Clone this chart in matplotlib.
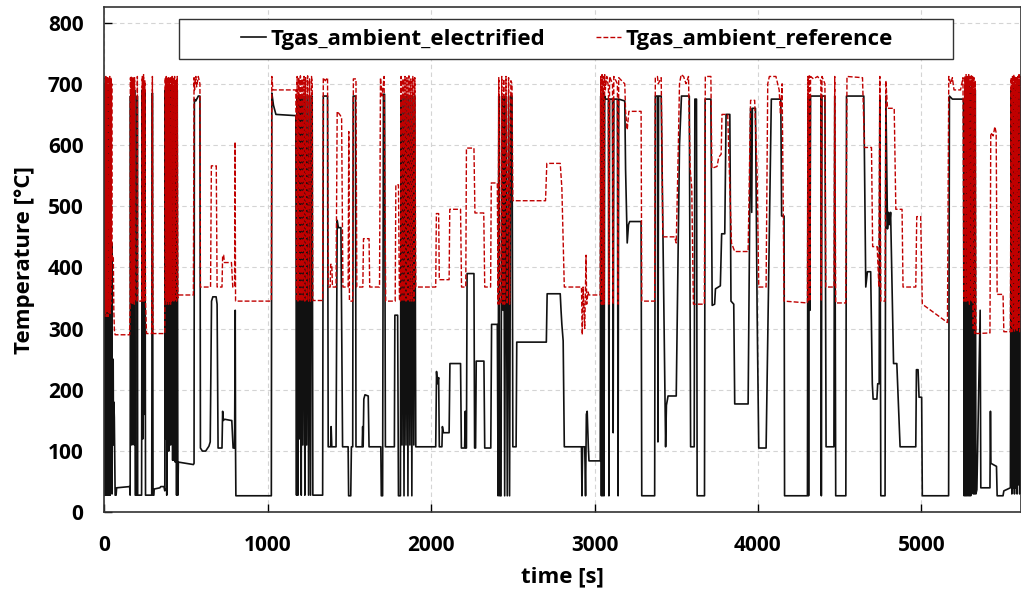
import matplotlib.pyplot as plt
import numpy as np
from matplotlib.patches import Rectangle

plt.rcParams['font.family'] = ['Open Sans', 'DejaVu Sans']
plt.rcParams['font.weight'] = 'bold'

# (time [s], temperature [°C]) breakpoints
electrified = [
    (0, 95), (2, 320), (3, 28), (5, 680), (7, 28), (9, 690), (11, 30), (13, 320), (15, 28), (17, 685),
    (19, 28), (21, 690), (23, 30), (25, 330), (27, 28), (29, 680), (31, 28), (33, 690), (35, 28), (37, 680),
    (39, 35), (41, 685), (43, 100), (45, 440), (47, 30), (49, 250), (52, 160), (54, 250), (56, 110), (58, 180),
    (61, 155), (63, 100), (66, 28), (72, 28), (75, 40), (150, 42), (155, 42),
    (158, 28), (160, 680), (163, 115), (165, 690), (168, 110), (170, 685), (173, 120), (175, 690), (178, 150),
    (180, 680), (183, 110), (185, 690), (189, 28), (200, 28), (202, 680), (204, 28), (228, 28), (232, 690),
    (236, 120), (240, 695), (244, 160), (248, 690), (252, 28), (290, 28), (294, 685), (298, 28), (303, 28),
    (305, 38), (340, 40), (345, 42), (365, 42), (370, 35),
    (373, 690), (376, 120), (379, 680), (382, 28), (385, 690), (388, 140), (391, 685), (394, 100), (397, 690),
    (400, 150), (403, 685), (406, 110), (409, 690), (412, 120), (415, 680), (418, 85), (422, 690), (426, 85),
    (430, 685), (434, 82), (438, 690), (442, 28), (446, 690), (450, 28), (453, 82), (545, 78),
    (549, 80), (551, 675), (560, 672), (575, 680), (585, 680), (588, 105), (600, 100), (620, 100), (640, 108),
    (648, 115), (656, 345), (664, 352), (684, 352), (690, 340), (696, 105), (720, 105), (724, 165), (728, 150),
    (736, 152), (776, 150), (780, 150), (788, 105), (797, 105), (799, 230), (801, 330), (803, 100), (805, 27),
    (1022, 27), (1025, 685), (1035, 665), (1050, 650), (1172, 648),
    (1176, 28), (1180, 680), (1185, 28), (1190, 680), (1195, 120), (1200, 680), (1205, 28), (1210, 680),
    (1215, 110), (1222, 680), (1227, 28), (1232, 680), (1238, 110), (1244, 680), (1250, 28), (1256, 680),
    (1262, 28), (1268, 680), (1272, 680), (1276, 28), (1336, 28), (1340, 680), (1366, 680), (1370, 107),
    (1385, 107), (1388, 140), (1392, 107), (1418, 107), (1425, 477), (1432, 465), (1448, 465), (1458, 107),
    (1492, 107), (1495, 27), (1508, 27), (1512, 107), (1520, 107), (1523, 680), (1537, 680), (1540, 107),
    (1578, 107), (1581, 140), (1584, 107), (1588, 185), (1595, 192), (1615, 190), (1620, 107), (1692, 107),
    (1695, 27), (1703, 27), (1708, 683), (1715, 683), (1720, 107), (1775, 107), (1778, 322), (1795, 322),
    (1800, 27), (1812, 27),
    (1816, 680), (1822, 110), (1828, 680), (1834, 27), (1840, 680), (1846, 110), (1852, 680), (1858, 27),
    (1864, 680), (1870, 110), (1876, 680), (1882, 27), (1888, 680), (1894, 110), (1900, 680), (1906, 107),
    (2028, 107), (2033, 230), (2038, 210), (2046, 220), (2050, 107), (2066, 107), (2069, 140), (2075, 130),
    (2110, 130), (2115, 243), (2180, 243), (2185, 105), (2205, 105), (2209, 165), (2212, 105), (2216, 105),
    (2220, 390), (2262, 390), (2266, 105), (2272, 105), (2276, 247), (2323, 247), (2328, 105), (2365, 105),
    (2370, 307), (2405, 307),
    (2410, 27), (2414, 680), (2420, 27), (2428, 27), (2432, 680), (2440, 330), (2444, 680), (2450, 27),
    (2458, 680), (2466, 27), (2474, 680), (2480, 27), (2488, 680), (2495, 680), (2500, 107), (2520, 107),
    (2524, 278), (2705, 278), (2710, 357), (2790, 357), (2795, 330), (2800, 307), (2808, 280), (2815, 107),
    (2920, 107), (2923, 27), (2927, 107), (2940, 107), (2945, 27), (2950, 160), (2955, 165), (2962, 107),
    (2966, 84), (3035, 84),
    (3038, 680), (3042, 27), (3046, 685), (3050, 27), (3054, 685), (3058, 27), (3062, 680), (3066, 675),
    (3085, 675), (3088, 27), (3092, 675), (3110, 675), (3114, 130), (3118, 675), (3140, 675), (3144, 27),
    (3148, 675), (3185, 672), (3190, 560), (3200, 440), (3208, 470), (3215, 475), (3285, 475), (3289, 27),
    (3368, 27), (3372, 680), (3385, 680), (3388, 115), (3392, 680), (3408, 680), (3435, 107), (3440, 175),
    (3450, 190), (3500, 190), (3520, 600), (3532, 680), (3565, 680), (3580, 680), (3588, 107), (3610, 107),
    (3614, 675), (3624, 675), (3628, 27), (3673, 27), (3677, 675), (3712, 675), (3720, 338), (3735, 340),
    (3740, 365), (3770, 370), (3778, 455), (3797, 455), (3805, 650), (3828, 650), (3835, 345), (3852, 340),
    (3858, 177), (3940, 177), (3955, 660), (3962, 490), (3966, 660), (3985, 660), (3995, 330), (4005, 105),
    (4050, 105), (4082, 675), (4140, 675), (4145, 484), (4160, 484), (4163, 27), (4303, 27),
    (4306, 680), (4310, 27), (4314, 680), (4318, 330), (4322, 680), (4385, 680), (4388, 27), (4392, 680),
    (4410, 680), (4417, 107), (4465, 107), (4470, 680), (4476, 27), (4538, 27), (4542, 680), (4648, 680),
    (4660, 368), (4670, 393), (4690, 393), (4700, 210), (4705, 185), (4728, 185), (4733, 210), (4742, 210),
    (4746, 680), (4752, 27), (4778, 27), (4783, 680), (4793, 463), (4800, 490), (4806, 470), (4812, 490),
    (4830, 243), (4850, 243), (4870, 107), (4966, 107), (4970, 233), (4980, 233), (4986, 188), (5002, 188),
    (5006, 27), (5167, 27), (5172, 680), (5190, 675), (5258, 675),
    (5262, 27), (5266, 690), (5270, 27), (5274, 700), (5278, 27), (5282, 690), (5286, 27), (5290, 700),
    (5294, 27), (5298, 690), (5302, 27), (5306, 695), (5310, 120), (5314, 690), (5318, 30), (5322, 680),
    (5326, 30), (5330, 690), (5334, 30), (5340, 37), (5360, 330), (5364, 40), (5420, 40),
    (5423, 165), (5426, 80), (5460, 75), (5464, 27), (5500, 27), (5505, 35), (5545, 40),
    (5550, 690), (5554, 30), (5558, 695), (5562, 40), (5566, 700), (5570, 30), (5574, 690), (5578, 40),
    (5582, 700), (5586, 30), (5590, 695), (5594, 45), (5598, 700), (5602, 30), (5606, 690), (5610, 40),
]

reference = [
    (0, 330), (2, 700), (3, 320), (5, 710), (7, 325), (9, 712), (11, 330), (13, 700), (15, 320), (17, 710),
    (19, 330), (21, 712), (23, 320), (25, 700), (27, 325), (29, 710), (31, 330), (33, 712), (35, 325),
    (37, 708), (39, 340), (41, 710), (43, 380), (45, 700), (47, 410), (50, 420), (55, 415), (58, 330),
    (62, 295), (66, 290), (155, 290),
    (158, 340), (160, 710), (163, 340), (165, 712), (168, 345), (170, 705), (173, 340), (175, 712), (178, 345),
    (180, 705), (183, 340), (185, 710), (189, 345), (200, 345), (202, 712), (204, 345), (228, 345), (232, 712),
    (236, 345), (240, 715), (244, 345), (248, 705), (252, 345), (258, 292), (290, 292), (294, 712), (298, 292),
    (370, 292),
    (373, 710), (376, 345), (379, 712), (382, 340), (385, 708), (388, 345), (391, 712), (394, 340), (397, 705),
    (400, 345), (403, 712), (406, 340), (409, 708), (412, 345), (415, 712), (418, 345), (422, 710), (426, 345),
    (430, 712), (434, 345), (438, 705), (442, 345), (446, 712), (450, 350), (455, 355), (545, 355),
    (549, 710), (552, 690), (560, 712), (565, 695), (575, 712), (585, 700), (588, 368), (650, 368), (655, 566),
    (685, 566), (690, 368), (720, 368), (724, 420), (730, 420), (735, 408), (778, 408), (786, 368), (797, 368),
    (800, 605), (803, 345), (1022, 345), (1025, 712), (1032, 690), (1172, 690),
    (1176, 345), (1180, 712), (1185, 345), (1190, 710), (1195, 345), (1200, 713), (1205, 345), (1210, 708),
    (1215, 345), (1222, 712), (1227, 345), (1232, 710), (1238, 345), (1244, 713), (1250, 345), (1256, 708),
    (1262, 345), (1268, 712), (1272, 700), (1276, 346), (1336, 346), (1340, 710), (1352, 705), (1366, 710),
    (1370, 368), (1382, 368), (1385, 405), (1392, 405), (1396, 368), (1418, 368), (1425, 655), (1440, 650),
    (1452, 645), (1460, 368), (1492, 368), (1496, 622), (1500, 345), (1520, 345), (1524, 708), (1540, 708),
    (1545, 368), (1582, 368), (1586, 447), (1620, 447), (1624, 368), (1684, 368), (1690, 710), (1700, 680),
    (1712, 712), (1722, 345), (1780, 345), (1784, 535), (1800, 535), (1806, 345), (1812, 345),
    (1816, 712), (1822, 345), (1828, 708), (1834, 345), (1840, 712), (1846, 345), (1852, 710), (1858, 345),
    (1864, 713), (1870, 345), (1876, 708), (1882, 345), (1888, 712), (1894, 345), (1900, 710), (1906, 368),
    (2028, 368), (2032, 488), (2046, 488), (2050, 380), (2110, 380), (2114, 495), (2180, 495), (2186, 368),
    (2212, 368), (2216, 595), (2262, 595), (2268, 489), (2322, 489), (2328, 368), (2364, 368), (2368, 538),
    (2405, 538),
    (2410, 340), (2414, 710), (2420, 340), (2428, 340), (2432, 712), (2440, 340), (2444, 708), (2450, 340),
    (2458, 712), (2466, 340), (2474, 710), (2480, 340), (2488, 705), (2495, 700), (2500, 509), (2700, 509),
    (2708, 570), (2790, 570), (2800, 530), (2815, 368), (2920, 368), (2925, 290), (2930, 368), (2940, 300),
    (2948, 420), (2952, 340), (2960, 360), (2966, 355), (3035, 355),
    (3038, 712), (3042, 340), (3046, 715), (3050, 340), (3054, 712), (3058, 340), (3062, 715), (3066, 690),
    (3075, 712), (3085, 695), (3088, 340), (3092, 712), (3110, 700), (3114, 340), (3118, 712), (3140, 700),
    (3144, 340), (3148, 710), (3185, 700), (3190, 655), (3200, 625), (3210, 655), (3285, 655), (3289, 345),
    (3368, 345), (3372, 710), (3385, 712), (3390, 700), (3408, 710), (3418, 450), (3490, 450), (3500, 440),
    (3510, 560), (3520, 700), (3530, 715), (3545, 712), (3560, 700), (3575, 712), (3585, 562), (3595, 530),
    (3605, 340), (3672, 340), (3678, 712), (3712, 712), (3718, 562), (3750, 565), (3760, 580), (3775, 585),
    (3780, 650), (3815, 650), (3825, 560), (3838, 440), (3858, 426), (3940, 426), (3955, 673), (3980, 673),
    (3995, 555), (4005, 368), (4050, 368), (4060, 700), (4070, 712), (4110, 712), (4130, 690), (4138, 650),
    (4148, 700), (4160, 345), (4303, 342),
    (4306, 712), (4310, 345), (4314, 713), (4318, 345), (4322, 712), (4340, 708), (4365, 712), (4385, 705),
    (4388, 345), (4392, 712), (4410, 700), (4415, 368), (4466, 368), (4470, 712), (4476, 342), (4538, 342),
    (4545, 712), (4640, 710), (4652, 596), (4695, 596), (4702, 434), (4730, 434), (4740, 368), (4746, 712),
    (4752, 345), (4778, 345), (4783, 705), (4793, 660), (4834, 660), (4844, 495), (4882, 495), (4888, 368),
    (4966, 368), (4972, 483), (4996, 483), (5006, 340), (5160, 310), (5168, 712), (5180, 700), (5190, 710),
    (5200, 690), (5240, 690), (5255, 710), (5260, 345),
    (5262, 345), (5266, 712), (5270, 345), (5274, 715), (5278, 345), (5282, 712), (5286, 345), (5290, 715),
    (5294, 340), (5298, 712), (5302, 345), (5306, 713), (5310, 345), (5314, 712), (5318, 300), (5322, 710),
    (5326, 292), (5330, 705), (5334, 293), (5340, 292), (5420, 293), (5425, 620), (5440, 615), (5450, 630),
    (5458, 620), (5464, 356), (5500, 356), (5505, 295), (5545, 295),
    (5550, 710), (5554, 295), (5558, 712), (5562, 300), (5566, 715), (5570, 295), (5574, 712), (5578, 300),
    (5582, 710), (5586, 295), (5590, 712), (5594, 300), (5598, 715), (5602, 295), (5606, 712), (5610, 300),
]

x_ticks = [0, 1000, 2000, 3000, 4000, 5000]
y_ticks = [0, 100, 200, 300, 400, 500, 600, 700, 800]

t_el, T_el = np.array(electrified).T
t_ref, T_ref = np.array(reference).T

fig = plt.figure(figsize=(10.21, 5.93), dpi=100)
ax = fig.add_axes([0.1022, 0.1361, 0.8978, 0.8516])

ax.plot(t_el, T_el, color='#111111', lw=1.2, label='Tgas_ambient_electrified')
ax.plot(t_ref, T_ref, color='#c00000', lw=1.0, linestyle=(0, (3.5, 1.5)), label='Tgas_ambient_reference')

ax.set_xlim(0, 5610)
ax.set_ylim(0, 825)
ax.set_xticks(x_ticks)
ax.set_yticks(y_ticks)
ax.grid(True, color='#d4d4d4', linestyle=(0, (4, 3)), lw=0.8)
ax.set_axisbelow(True)
ax.tick_params(direction='in', length=6, width=1, labelsize=15)
ax.tick_params(axis='x', pad=16)
ax.tick_params(axis='y', pad=15)
for s in ax.spines.values():
    s.set_color('#333333')
    s.set_linewidth(1.2)

ax.set_xlabel('time [s]', fontsize=16, fontweight='bold', labelpad=8)
ax.set_ylabel('Temperature [°C]', fontsize=16, fontweight='bold', labelpad=9)

# legend box drawn separately so its size matches the original
fig.patches.append(Rectangle((179 / 1021, 1 - 59 / 593), (953 - 179) / 1021, 40 / 593,
                             transform=fig.transFigure, facecolor='white', edgecolor='#333333',
                             lw=1.0, zorder=5))
leg = fig.legend(loc='center', bbox_to_anchor=(567 / 1021, 1 - 39 / 593), ncol=2, frameon=False,
                 fontsize=16, handlelength=1.1, handletextpad=0.2, columnspacing=2.3)
leg.set_zorder(6)

fig.savefig('out.png', dpi=100)
